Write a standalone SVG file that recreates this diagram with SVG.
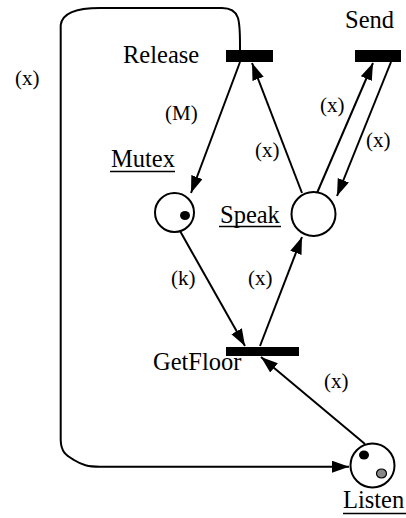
<svg xmlns="http://www.w3.org/2000/svg" width="406" height="518" viewBox="0 0 406 518">
<defs>
<marker id="ah" markerUnits="userSpaceOnUse" markerWidth="18" markerHeight="13" refX="17" refY="6" orient="auto">
<path d="M0,0 L17,6 L0,12 z" fill="#000"/>
</marker>
</defs>
<rect width="406" height="518" fill="#fff"/>
<g id="connectors" fill="none" stroke="#000" stroke-width="2" marker-end="url(#ah)">
<path d="M240,50 C240,22 241,8 222,8 L100,8 C76,8 62,14 60.7,25 L60.7,440 C61,452 66,455 74,460 C82,465 88,466.7 100,466.7 L349,466.7"/>
<line x1="240" y1="62" x2="191" y2="193"/>
<line x1="302" y1="193" x2="252" y2="63"/>
<line x1="317" y1="193" x2="373" y2="63"/>
<line x1="391" y1="62" x2="337" y2="196"/>
<line x1="180" y1="231" x2="245" y2="346"/>
<line x1="260" y1="346" x2="302" y2="237"/>
<line x1="365" y1="444" x2="261" y2="357"/>
</g>
<g id="labels" font-family="Liberation Serif" font-size="21" fill="#000">
<text x="15" y="85">(x)</text>
<text x="165" y="120">(M)</text>
<text x="255" y="157">(x)</text>
<text x="320" y="111.5">(x)</text>
<text x="366" y="146.5">(x)</text>
<text x="171" y="285">(k)</text>
<text x="248" y="285">(x)</text>
<text x="324" y="388">(x)</text>
</g>
<g id="Release">
<rect x="226" y="50" width="47" height="12" fill="#000"/>
<text font-family="Liberation Serif" font-size="24.5" x="123" y="63">Release</text>
</g>
<g id="Send">
<rect x="355" y="50" width="46" height="12" fill="#000"/>
<text font-family="Liberation Serif" font-size="24.5" x="345" y="27.5">Send</text>
</g>
<g id="GetFloor">
<rect x="226" y="347" width="73" height="9" fill="#000"/>
<text font-family="Liberation Serif" font-size="24.5" x="153" y="370">GetFloor</text>
</g>
<g id="Mutex">
<circle cx="174.5" cy="212.5" r="19.5" fill="#fff" stroke="#000" stroke-width="2"/>
<ellipse cx="185" cy="215.5" rx="5" ry="4.5" fill="#000"/>
<text font-family="Liberation Serif" font-size="24.5" x="111" y="167">Mutex</text>
<line x1="110" y1="171.5" x2="175" y2="171.5" stroke="#000" stroke-width="1.5"/>
</g>
<g id="Speak">
<circle cx="313.5" cy="214" r="22" fill="#fff" stroke="#000" stroke-width="2"/>
<text font-family="Liberation Serif" font-size="24.5" x="220" y="222.5">Speak</text>
<line x1="219" y1="226.5" x2="281" y2="226.5" stroke="#000" stroke-width="1.5"/>
</g>
<g id="Listen">
<circle cx="372.5" cy="465.5" r="22" fill="#fff" stroke="#000" stroke-width="2"/>
<ellipse cx="364" cy="455" rx="5" ry="4.5" fill="#000"/>
<ellipse cx="381.5" cy="473.5" rx="5" ry="4.5" fill="#888" stroke="#000" stroke-width="1.2"/>
<text font-family="Liberation Serif" font-size="24.5" x="343" y="507.5">Listen</text>
<line x1="343" y1="513.5" x2="406" y2="513.5" stroke="#000" stroke-width="1.5"/>
</g>
</svg>
